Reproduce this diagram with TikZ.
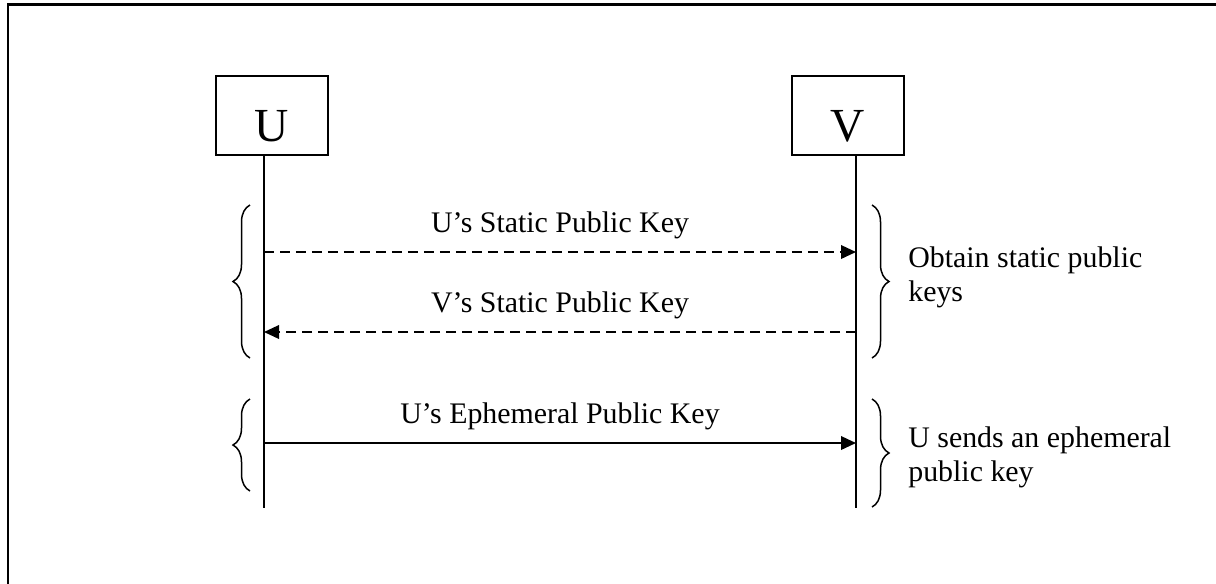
\documentclass[tikz,border=0pt]{standalone}
\usepackage{fontspec}
\setmainfont{Liberation Serif}
\usetikzlibrary{arrows.meta,decorations.pathreplacing}

\begin{document}
\begin{tikzpicture}[x=0.02cm,y=-0.02cm,auto,
    party/.style={draw,line width=0.04cm,minimum width=2.24cm,minimum height=1.58cm,
      text height=1.06cm,inner sep=0pt,font=\fontsize{27}{27}\selectfont},
    msg/.style={line width=0.04cm,-{Triangle[length=0.3cm,width=0.27cm]}},
    dashmsg/.style={msg,dash pattern=on 0.2cm off 0.12cm},
    lbl/.style={above=0.24cm,inner sep=0pt,font=\fontsize{17}{19}\selectfont},
    note/.style={anchor=north west,align=left,inner sep=0pt,font=\fontsize{17}{19.6}\selectfont},
    curly/.style={decorate,decoration={brace,amplitude=0.34cm},line width=0.03cm}]
    \useasboundingbox (0,0) rectangle (1216,583);
    \draw [line width=0.06cm] (8,4) rectangle (1240,600);
    \node [party] (u) at (272,115.5) {U};
    \node [party] (v) at (848,115) {V};
    \coordinate (ub) at (264,508);
    \coordinate (vb) at (856,508);
    \draw [line width=0.04cm] (u.south -| ub) -- (ub);
    \draw [line width=0.04cm] (v.south -| vb) -- (vb);
    \coordinate (u1) at (264,252);
    \coordinate (v1) at (856,252);
    \coordinate (u2) at (264,332);
    \coordinate (v2) at (856,332);
    \coordinate (u3) at (264,443);
    \coordinate (v3) at (856,443);
    \draw [dashmsg] (u1) to node [lbl] {U's Static Public Key} (v1);
    \draw [dashmsg] (v2) to node [lbl] {V's Static Public Key} (u2);
    \draw [msg] (u3) to node [lbl] {U's Ephemeral Public Key} (v3);
    \draw [curly] (250,358) -- (250,205);
    \draw [curly] (872,205) -- (872,358);
    \draw [curly] (250,491) -- (250,399);
    \draw [curly] (872,399) -- (872,507);
    \node [note] (n1) at (908,246) {Obtain static public\\keys};
    \node [note] (n2) at (908,426) {U sends an ephemeral\\public key};
  \end{tikzpicture}
\end{document}
